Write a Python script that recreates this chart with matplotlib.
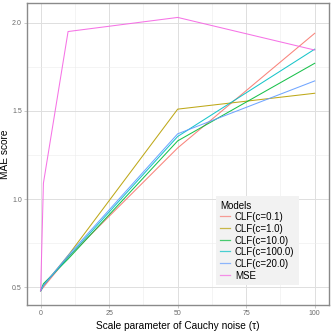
#!/usr/bin/env python3
"""MAE score vs Cauchy noise scale for CLF and MSE models."""

import matplotlib

matplotlib.use("Agg")
import matplotlib.pyplot as plt
from matplotlib.lines import Line2D

plt.rcParams["font.family"] = ["Liberation Sans", "DejaVu Sans"]

noise_scale = [0, 1, 10, 50, 100]
clf_01 = [0.48, 0.50, 0.67, 1.29, 1.94]
clf_1 = [0.48, 0.51, 0.68, 1.51, 1.60]
clf_10 = [0.48, 0.52, 0.66, 1.33, 1.77]
clf_100 = [0.48, 0.51, 0.67, 1.355, 1.85]
clf_20 = [0.48, 0.51, 0.68, 1.37, 1.67]
mse = [0.48, 1.09, 1.95, 2.03, 1.845]

model_names = ["CLF(c=0.1)", "CLF(c=1.0)", "CLF(c=10.0)", "CLF(c=100.0)", "CLF(c=20.0)", "MSE"]
model_values = [clf_01, clf_1, clf_10, clf_100, clf_20, mse]
model_colors = ["#F8766D", "#B79F00", "#00BA38", "#00BFC4", "#619CFF", "#F564E3"]

x_ticks = [0, 25, 50, 75, 100]
y_ticks = [0.5, 1.0, 1.5, 2.0]

fig = plt.figure(figsize=(3.32, 3.32), dpi=100)
ax = fig.add_axes([0.0804, 0.0822, 0.9096, 0.9078])

for values, color in zip(model_values, model_colors):
    ax.plot(noise_scale, values, color=color, linewidth=0.75, alpha=0.9, zorder=3)

ax.set_xlim(-5.1, 105.1)
ax.set_ylim(0.401, 2.11)
ax.set_xticks(x_ticks)
ax.set_xticklabels([str(t) for t in x_ticks])
ax.set_yticks(y_ticks)
ax.set_yticklabels([f"{t:.1f}" for t in y_ticks])
ax.set_xticks([12.5, 37.5, 62.5, 87.5], minor=True)
ax.set_yticks([0.75, 1.25, 1.75], minor=True)
ax.grid(True, which="major", color="#dedede", linewidth=0.7, zorder=0)
ax.grid(True, which="minor", color="#ececec", linewidth=0.4, zorder=0)
ax.set_axisbelow(True)
ax.tick_params(which="major", length=2, width=0.5, color="#b3b3b3",
               labelsize=5, labelcolor="#6b6b6b", pad=1.5)
ax.tick_params(which="minor", length=0)
for spine in ax.spines.values():
    spine.set_color("#8a8a8a")
    spine.set_linewidth(1.0)

ax.set_xlabel("Scale parameter of Cauchy noise (\u03c4)", fontsize=7.3)
ax.set_ylabel("MAE score", fontsize=7.3)
ax.xaxis.set_label_coords(0.5, -0.054)
ax.yaxis.set_label_coords(-0.055, 0.5)

handles = [Line2D([], [], color=c, linewidth=0.9, alpha=0.7) for c in model_colors]
leg = ax.legend(
    handles, model_names, title="Models", loc="upper left",
    bbox_to_anchor=(0.627, 0.36), fontsize=7, title_fontsize=7,
    handlelength=1.0, handleheight=1.2, handletextpad=0.5,
    labelspacing=0.15, borderpad=0.45, borderaxespad=0.0,
    frameon=True, fancybox=False,
    facecolor="#f2f2f2", edgecolor="none", framealpha=1.0,
)
leg._legend_box.align = "left"

fig.savefig("out.png", dpi=100)
